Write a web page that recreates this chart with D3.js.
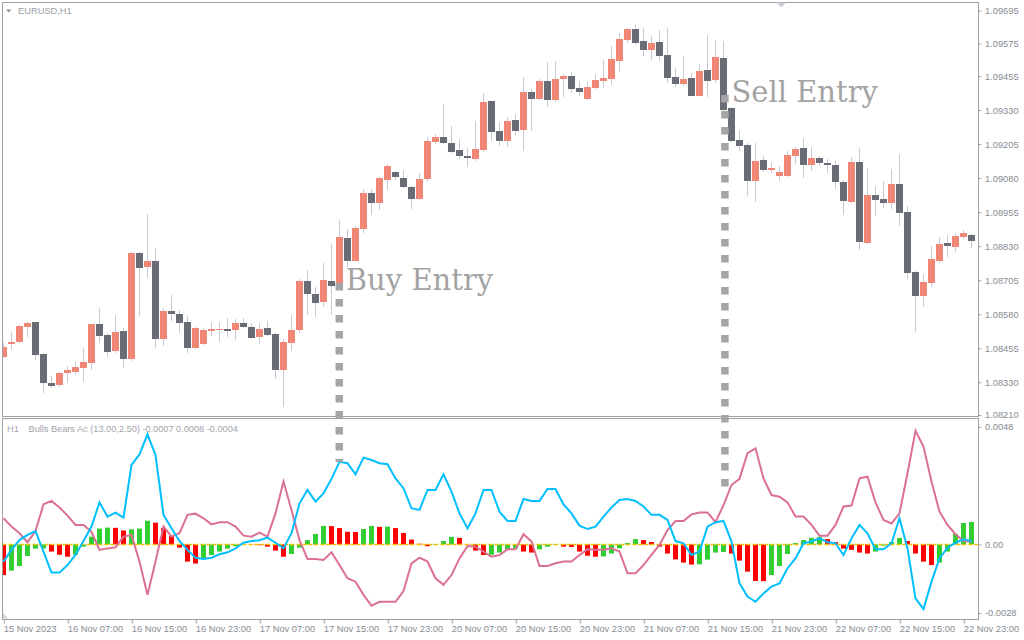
<!DOCTYPE html>
<html>
<head>
<meta charset="utf-8">
<script src="https://cdn.jsdelivr.net/npm/d3@7"></script>
<style>
body { margin: 0; background: #fff; }
text { font-family: "Liberation Sans", Arial, sans-serif; }
</style>
</head>
<body>
<div id="chart"></div>
<script>
var width = 1024;
var height = 640;

// x axis labels, one every 8 bars
var timeLabels = ["15 Nov 2023", "16 Nov 07:00", "16 Nov 15:00", "16 Nov 23:00", "17 Nov 07:00",
    "17 Nov 15:00", "17 Nov 23:00", "20 Nov 07:00", "20 Nov 15:00", "20 Nov 23:00", "21 Nov 07:00",
    "21 Nov 15:00", "21 Nov 23:00", "22 Nov 07:00", "22 Nov 15:00", "22 Nov 23:00"];

var priceTicks = [1.09695, 1.09575, 1.09455, 1.09330, 1.09205, 1.09080, 1.08955,
    1.08830, 1.08705, 1.08580, 1.08455, 1.08330, 1.08210];

var indTicks = [0.0048, 0, -0.0028];
var indTickLabels = ["0.0048", "0.00", "-0.0028"];

// EURUSD H1 candles
var opens = [1.08423,1.08471,1.08478,1.08533,1.08552,1.08434,1.08328,1.08320,1.08364,1.08368,
    1.08383,1.08401,1.08544,1.08504,1.08445,1.08519,1.08416,1.08805,1.08754,1.08776,
    1.08489,1.08592,1.08581,1.08552,1.08456,1.08471,1.08519,1.08522,1.08526,1.08522,
    1.08548,1.08533,1.08497,1.08530,1.08508,1.08375,1.08474,1.08522,1.08702,1.08654,
    1.08625,1.08702,1.08695,1.08860,1.08776,1.08893,1.09025,1.08989,1.09073,1.09103,
    1.09081,1.09047,1.09003,1.09077,1.09213,1.09231,1.09209,1.09183,1.09161,1.09150,
    1.09183,1.09363,1.09253,1.09216,1.09294,1.09257,1.09396,1.09371,1.09437,1.09367,
    1.09444,1.09455,1.09411,1.09371,1.09411,1.09437,1.09444,1.09510,1.09587,1.09628,
    1.09584,1.09551,1.09580,1.09532,1.09452,1.09426,1.09448,1.09382,1.09477,1.09440,
    1.09521,1.09338,1.09220,1.09202,1.09070,1.09147,1.09110,1.09088,1.09088,1.09161,
    1.09191,1.09128,1.09154,1.09136,1.09128,1.09066,1.08992,1.09139,1.08842,1.09018,
    1.09003,1.08989,1.09058,1.08956,1.08735,1.08647,1.08695,1.08776,1.08842,1.08827,
    1.08864,1.08871];
var highs = [1.08475,1.08515,1.08540,1.08552,1.08553,1.08436,1.08353,1.08368,1.08390,1.08405,
    1.08456,1.08546,1.08603,1.08511,1.08577,1.08530,1.08809,1.08807,1.08948,1.08823,
    1.08603,1.08651,1.08596,1.08574,1.08533,1.08530,1.08552,1.08552,1.08566,1.08563,
    1.08566,1.08548,1.08548,1.08555,1.08511,1.08489,1.08577,1.08710,1.08743,1.08680,
    1.08768,1.08838,1.08926,1.08893,1.08904,1.09040,1.09040,1.09084,1.09132,1.09106,
    1.09110,1.09051,1.09099,1.09231,1.09242,1.09352,1.09272,1.09224,1.09191,1.09290,
    1.09393,1.09365,1.09286,1.09305,1.09316,1.09451,1.09407,1.09444,1.09507,1.09510,
    1.09463,1.09470,1.09437,1.09433,1.09463,1.09514,1.09565,1.09613,1.09632,1.09643,
    1.09632,1.09602,1.09624,1.09632,1.09485,1.09529,1.09466,1.09499,1.09606,1.09587,
    1.09584,1.09341,1.09257,1.09209,1.09209,1.09161,1.09139,1.09125,1.09180,1.09194,
    1.09227,1.09194,1.09161,1.09150,1.09143,1.09073,1.09158,1.09191,1.09117,1.09051,
    1.09070,1.09114,1.09169,1.08978,1.08739,1.08728,1.08831,1.08864,1.08871,1.08878,
    1.08889,1.08875];
var lows = [1.08419,1.08449,1.08475,1.08497,1.08412,1.08291,1.08309,1.08313,1.08328,1.08357,
    1.08331,1.08375,1.08474,1.08423,1.08438,1.08383,1.08408,1.08574,1.08713,1.08456,
    1.08463,1.08555,1.08511,1.08438,1.08452,1.08467,1.08500,1.08478,1.08497,1.08485,
    1.08530,1.08491,1.08471,1.08500,1.08342,1.08239,1.08445,1.08511,1.08577,1.08570,
    1.08607,1.08577,1.08687,1.08754,1.08774,1.08878,1.08945,1.08963,1.09036,1.09073,
    1.09044,1.08967,1.09000,1.09066,1.09205,1.09205,1.09174,1.09150,1.09121,1.09143,
    1.09176,1.09216,1.09198,1.09194,1.09238,1.09180,1.09253,1.09367,1.09341,1.09360,
    1.09378,1.09393,1.09382,1.09367,1.09407,1.09411,1.09422,1.09470,1.09576,1.09569,
    1.09529,1.09514,1.09510,1.09429,1.09415,1.09418,1.09380,1.09380,1.09378,1.09429,
    1.09312,1.09213,1.09180,1.09014,1.08992,1.09103,1.09099,1.09070,1.09085,1.09132,
    1.09081,1.09106,1.09125,1.09099,1.09040,1.08945,1.08989,1.08816,1.08838,1.08941,
    1.08970,1.08967,1.08904,1.08710,1.08515,1.08607,1.08680,1.08768,1.08790,1.08809,
    1.08856,1.08823];
var closes = [1.08460,1.08478,1.08537,1.08548,1.08430,1.08328,1.08317,1.08364,1.08375,1.08386,
    1.08405,1.08544,1.08500,1.08441,1.08515,1.08416,1.08805,1.08750,1.08776,1.08489,
    1.08592,1.08581,1.08548,1.08456,1.08530,1.08522,1.08526,1.08526,1.08519,1.08548,
    1.08533,1.08493,1.08526,1.08504,1.08375,1.08478,1.08522,1.08702,1.08654,1.08621,
    1.08706,1.08684,1.08864,1.08776,1.08897,1.09025,1.08989,1.09081,1.09125,1.09084,
    1.09047,1.09003,1.09077,1.09216,1.09231,1.09209,1.09176,1.09161,1.09154,1.09187,
    1.09360,1.09250,1.09216,1.09290,1.09253,1.09396,1.09371,1.09437,1.09367,1.09444,
    1.09455,1.09407,1.09396,1.09415,1.09440,1.09448,1.09518,1.09591,1.09628,1.09576,
    1.09551,1.09576,1.09529,1.09448,1.09426,1.09444,1.09382,1.09474,1.09437,1.09525,
    1.09330,1.09216,1.09198,1.09070,1.09143,1.09110,1.09117,1.09103,1.09165,1.09187,
    1.09128,1.09154,1.09136,1.09128,1.09066,1.08996,1.09139,1.08845,1.09018,1.09000,
    1.08989,1.09058,1.08952,1.08732,1.08647,1.08699,1.08783,1.08838,1.08831,1.08867,
    1.08878,1.08849];

// Bulls Bears Ac indicator
var acHist = [-0.00125,-0.00107,-0.00088,-0.00047,-0.00017,-0.00016,-0.00029,-0.00042,-0.00050,-0.00042,
    -0.00009,0.00032,0.00065,0.00069,0.00068,0.00057,0.00062,0.00065,0.00097,0.00089,
    0.00067,0.00035,-0.00013,-0.00070,-0.00078,-0.00057,-0.00043,-0.00029,-0.00017,-0.00007,
    0.00002,0.00001,-0.00003,-0.00009,-0.00025,-0.00050,-0.00039,-0.00013,0.00018,0.00043,
    0.00076,0.00075,0.00067,0.00052,0.00051,0.00063,0.00076,0.00072,0.00073,0.00067,
    0.00047,0.00020,0.00003,-0.00007,-0.00002,0.00014,0.00031,0.00027,-0.00001,-0.00025,
    -0.00043,-0.00042,-0.00033,-0.00020,-0.00016,-0.00029,-0.00033,-0.00020,-0.00009,-0.00002,
    -0.00009,-0.00010,-0.00029,-0.00046,-0.00050,-0.00049,-0.00037,-0.00016,0.00006,0.00022,
    0.00018,0.00010,-0.00009,-0.00037,-0.00061,-0.00074,-0.00082,-0.00081,-0.00062,-0.00033,
    -0.00031,-0.00037,-0.00066,-0.00111,-0.00149,-0.00150,-0.00125,-0.00088,-0.00039,0.00006,
    0.00018,0.00027,0.00031,0.00022,0.00010,-0.00017,-0.00022,-0.00033,-0.00037,-0.00029,
    -0.00005,0.00010,0.00027,0.00014,-0.00037,-0.00070,-0.00084,-0.00074,-0.00029,0.00043,
    0.00088,0.00092];
var bullsLine = [-0.00070,-0.00022,0.00018,0.00039,0.00055,-0.00029,-0.00115,-0.00115,-0.00084,-0.00043,
    0.00014,0.00073,0.00172,0.00114,0.00130,0.00110,0.00325,0.00368,0.00450,0.00366,
    0.00121,0.00066,0.00014,-0.00022,-0.00054,-0.00059,-0.00054,-0.00040,-0.00032,-0.00016,
    0.00007,0.00014,0.00017,0.00028,0.00007,-0.00016,0.00046,0.00168,0.00223,0.00175,
    0.00209,0.00268,0.00338,0.00332,0.00287,0.00355,0.00345,0.00332,0.00328,0.00270,
    0.00230,0.00148,0.00141,0.00223,0.00223,0.00287,0.00216,0.00127,0.00066,0.00127,
    0.00223,0.00223,0.00134,0.00096,0.00096,0.00186,0.00178,0.00178,0.00227,0.00227,
    0.00164,0.00127,0.00077,0.00063,0.00073,0.00114,0.00151,0.00182,0.00186,0.00178,
    0.00155,0.00121,0.00121,0.00100,0.00014,0.00005,-0.00043,-0.00029,0.00073,0.00091,
    0.00096,0.00012,-0.00159,-0.00213,-0.00234,-0.00200,-0.00172,-0.00159,-0.00097,-0.00057,
    0.00005,0.00012,0.00025,0.00009,0.00005,-0.00043,0.00025,0.00080,0.00046,-0.00020,
    -0.00020,0.00005,0.00107,-0.00016,-0.00220,-0.00264,-0.00152,-0.00057,-0.00013,0.00007,
    0.00021,0.00014];
var bearsLine = [0.00107,0.00073,0.00046,0.00009,0.00055,0.00164,0.00178,0.00151,0.00118,0.00080,
    0.00080,0.00052,-0.00022,-0.00016,-0.00012,0.00032,0.00039,-0.00070,-0.00206,-0.00070,
    0.00073,0.00032,0.00046,0.00121,0.00126,0.00107,0.00082,0.00091,0.00091,0.00073,
    0.00036,0.00032,0.00048,0.00032,0.00127,0.00257,0.00141,0.00018,-0.00059,-0.00059,
    -0.00063,-0.00032,-0.00084,-0.00138,-0.00152,-0.00206,-0.00250,-0.00234,-0.00234,-0.00234,
    -0.00190,-0.00077,-0.00054,-0.00070,-0.00138,-0.00165,-0.00125,-0.00057,-0.00006,-0.00009,
    -0.00029,-0.00050,-0.00043,-0.00020,-0.00020,0.00042,0.00012,-0.00088,-0.00088,-0.00077,
    -0.00070,-0.00070,-0.00043,-0.00020,-0.00022,-0.00022,-0.00016,-0.00029,-0.00118,-0.00118,
    -0.00084,-0.00043,-0.00002,0.00059,0.00096,0.00096,0.00123,0.00131,0.00131,0.00091,
    0.00161,0.00243,0.00268,0.00373,0.00393,0.00270,0.00202,0.00195,0.00172,0.00114,
    0.00114,0.00080,0.00036,0.00036,0.00080,0.00155,0.00159,0.00270,0.00277,0.00172,
    0.00100,0.00086,0.00127,0.00291,0.00464,0.00400,0.00257,0.00134,0.00080,0.00042,
    0.00014,0.00012];

// entry markers: bar, price where the dots start, indicator value where they stop
var entryLabels = ["Buy Entry", "Sell Entry"];
var entryBars = [42, 90.2];
var entryPrices = [1.08695, 1.09385];
var entryIndEnds = [0.00337, 0.0021];

var svg = d3.select("#chart").append("svg")
    .attr("width", width)
    .attr("height", height);

svg.append("rect")
    .attr("width", width)
    .attr("height", height)
    .attr("fill", "#ffffff");

var plotLeft = 2.5, plotRight = 978.5;
var mainTop = 2.5, mainBottom = 416.5;
var indTop = 418.5, indBottom = 619.5;

var x = d3.scaleLinear().domain([0, opens.length - 1]).range([3.3, 971.3]);
var y = d3.scaleLinear().domain([1.08210, 1.09695]).range([415, 10.67]);
var yInd = d3.scaleLinear().domain([-0.0028, 0.0048]).range([613, 427]);

function cx(i) { return Math.round(x(i)) + 0.5; }

var defs = svg.append("defs");
defs.append("clipPath").attr("id", "clipMain").append("rect")
    .attr("x", plotLeft + 0.5).attr("y", mainTop + 0.5)
    .attr("width", plotRight - plotLeft - 1).attr("height", mainBottom - mainTop - 1);
defs.append("clipPath").attr("id", "clipInd").append("rect")
    .attr("x", plotLeft + 0.5).attr("y", indTop + 0.5)
    .attr("width", plotRight - plotLeft - 1).attr("height", indBottom - indTop - 1);

var bars = d3.range(opens.length);

//candles
var candles = svg.append("g").attr("clip-path", "url(#clipMain)");

candles.selectAll("line")
    .data(bars)
    .enter().append("line")
    .attr("x1", cx).attr("x2", cx)
    .attr("y1", function (i) { return Math.round(y(highs[i])); })
    .attr("y2", function (i) { return Math.round(y(lows[i])); })
    .attr("stroke", "#c9ccd3")
    .attr("stroke-width", 1);

candles.selectAll("rect")
    .data(bars)
    .enter().append("rect")
    .attr("x", function (i) { return Math.round(x(i)) - 3; })
    .attr("width", 7)
    .attr("y", function (i) { return Math.round(y(Math.max(opens[i], closes[i]))); })
    .attr("height", function (i) {
        return Math.max(1, Math.round(Math.abs(y(opens[i]) - y(closes[i]))));
    })
    .attr("fill", function (i) { return closes[i] >= opens[i] ? "#ef8676" : "#686c75"; });

//indicator histogram and lines
var ind = svg.append("g").attr("clip-path", "url(#clipInd)");

ind.selectAll("rect")
    .data(bars)
    .enter().append("rect")
    .attr("x", function (i) { return Math.round(x(i)) - 2; })
    .attr("width", 5)
    .attr("y", function (i) { return Math.min(yInd(acHist[i]), yInd(0)); })
    .attr("height", function (i) { return Math.abs(yInd(acHist[i]) - yInd(0)); })
    .attr("fill", function (i) {
        return i > 0 && acHist[i] > acHist[i - 1] ? "#32cd32" : "#ff0000";
    });

ind.append("line")
    .attr("x1", plotLeft).attr("x2", plotRight)
    .attr("y1", yInd(0)).attr("y2", yInd(0))
    .attr("stroke", "#f2c200")
    .attr("stroke-width", 1.5)
    .attr("stroke-dasharray", "4,2");

var bearsPath = d3.line()
    .x(cx)
    .y(function (i) { return yInd(bearsLine[i]); });
var bullsPath = d3.line()
    .x(cx)
    .y(function (i) { return yInd(bullsLine[i]); });

ind.append("path")
    .attr("d", bearsPath(bars))
    .attr("fill", "none")
    .attr("stroke", "#db7093")
    .attr("stroke-width", 2);

ind.append("path")
    .attr("d", bullsPath(bars))
    .attr("fill", "none")
    .attr("stroke", "#00bfff")
    .attr("stroke-width", 2);

//frames
svg.append("rect")
    .attr("x", plotLeft).attr("y", mainTop)
    .attr("width", plotRight - plotLeft).attr("height", mainBottom - mainTop)
    .attr("fill", "none").attr("stroke", "#a0a0a0");
svg.append("rect")
    .attr("x", plotLeft).attr("y", indTop)
    .attr("width", plotRight - plotLeft).attr("height", indBottom - indTop)
    .attr("fill", "none").attr("stroke", "#a0a0a0");

// price axis
var priceAxis = svg.append("g")
    .attr("transform", "translate(" + plotRight + ",0)")
    .call(d3.axisRight(y).tickValues(priceTicks).tickFormat(d3.format(".5f")).tickSize(3).tickPadding(3.5));

var indAxis = svg.append("g")
    .attr("transform", "translate(" + plotRight + ",0)")
    .call(d3.axisRight(yInd).tickValues(indTicks)
        .tickFormat(function (d, i) { return indTickLabels[i]; })
        .tickSize(3).tickPadding(3.5));

var timeAxis = svg.append("g")
    .attr("transform", "translate(0," + indBottom + ")")
    .call(d3.axisBottom(x).tickValues(d3.range(0, opens.length, 8))
        .tickFormat(function (d, i) { return timeLabels[i]; })
        .tickSize(4));

[priceAxis, indAxis, timeAxis].forEach(function (g) {
    g.select(".domain").remove();
    g.selectAll(".tick line").attr("stroke", "#a0a0a0");
    g.selectAll(".tick text")
        .attr("fill", "#868b94")
        .style("font-family", "'Liberation Sans', Arial, sans-serif")
        .style("font-size", "9.3px");
});

timeAxis.selectAll(".tick line").attr("transform", "translate(0.5,0)");
timeAxis.selectAll(".tick text")
    .attr("text-anchor", "start")
    .attr("x", 0)
    .attr("y", 12.2)
    .attr("dy", null);

// entries
var entries = svg.append("g");
entryLabels.forEach(function (label, k) {
    var ex = x(entryBars[k]);
    var top = y(entryPrices[k]);
    entries.append("line")
        .attr("x1", ex).attr("x2", ex)
        .attr("y1", top).attr("y2", yInd(entryIndEnds[k]))
        .attr("stroke", "#a6a6a6")
        .attr("stroke-width", 7.5)
        .attr("stroke-dasharray", "7.5,8.5");
    entries.append("text")
        .attr("x", ex + 6.5)
        .attr("y", top + 6.8)
        .attr("fill", "#a3a3a3")
        .style("font-family", "'DejaVu Serif', serif")
        .style("font-size", "29px")
        .text(label);
});

// titles and small markers
svg.append("path")
    .attr("d", "M6,9.5 L11.5,9.5 L8.75,12.5 Z")
    .attr("fill", "#8d9199");
svg.append("text")
    .attr("x", 18).attr("y", 14)
    .attr("fill", "#9b9fa6")
    .style("font-size", "9.3px")
    .text("EURUSD,H1");

svg.append("text")
    .attr("x", 7).attr("y", 431.5)
    .attr("fill", "#a2a5ab")
    .style("font-size", "9.2px")
    .text("H1");
svg.append("text")
    .attr("x", 28.5).attr("y", 431.5)
    .attr("fill", "#a2a5ab")
    .style("font-size", "9.2px")
    .text("Bulls Bears Ac (13.00,2.50) -0.0007 0.0008 -0.0004");

svg.append("path")
    .attr("d", "M776.5,2.5 L786,2.5 L781.25,7.5 Z")
    .attr("fill", "#c9ccd2");
svg.append("path")
    .attr("d", "M3,613 L3,618.5 L8.5,618.5 Z")
    .attr("fill", "#d5d7db");
</script>
</body>
</html>
